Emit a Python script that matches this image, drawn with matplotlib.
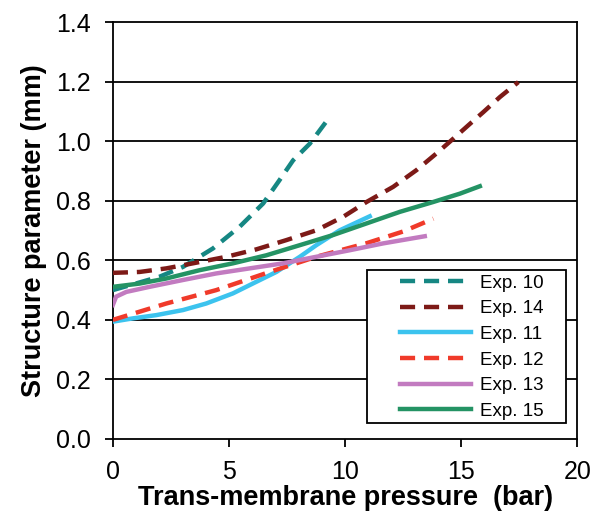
import matplotlib
matplotlib.use("Agg")
import matplotlib.pyplot as plt
from matplotlib.patches import Rectangle

plt.rcParams['font.family'] = ['Liberation Sans', 'DejaVu Sans']

# values
x10 = [0, 2.01, 3.02, 4.31, 5.46, 6.47, 7.18, 7.76, 8.48, 9.34]
y10 = [0.50, 0.545, 0.578, 0.640, 0.713, 0.791, 0.870, 0.936, 0.992, 1.082]

x14 = [0, 1.15, 2.3, 3.45, 4.89, 6.18, 7.47, 8.76, 9.91, 10.92, 12.07, 13.07, 13.93, 14.66, 15.38, 15.95, 16.67, 17.46]
y14 = [0.558, 0.561, 0.573, 0.590, 0.612, 0.637, 0.668, 0.701, 0.746, 0.796, 0.847, 0.903, 0.959, 1.009, 1.059, 1.098, 1.149, 1.199]

x11 = [0, 0.86, 1.87, 3.02, 4.02, 5.17, 6.18, 7.04, 8.05, 8.76, 9.77, 11.06]
y11 = [0.394, 0.405, 0.416, 0.433, 0.455, 0.489, 0.528, 0.561, 0.612, 0.651, 0.701, 0.748]

x12 = [0, 2.3, 4.45, 6.6, 8.76, 10.9, 12.5, 13.8]
y12 = [0.40, 0.455, 0.50, 0.557, 0.612, 0.657, 0.697, 0.74]

x13 = [0, 0.14, 0.58, 1.58, 3.02, 4.45, 5.89, 7.33, 8.76, 10.2, 11.64, 13.43]
y13 = [0.450, 0.478, 0.494, 0.511, 0.534, 0.556, 0.573, 0.590, 0.612, 0.634, 0.657, 0.681]

x15 = [0, 1.15, 2.3, 3.74, 5.17, 6.61, 8.05, 9.48, 10.92, 12.36, 13.79, 14.94, 15.8]
y15 = [0.511, 0.522, 0.539, 0.567, 0.590, 0.617, 0.651, 0.685, 0.724, 0.763, 0.796, 0.824, 0.849]

xticks = [0, 5, 10, 15, 20]
yticks = [0.0, 0.2, 0.4, 0.6, 0.8, 1.0, 1.2, 1.4]

fig = plt.figure(figsize=(5.94, 5.17), dpi=100, facecolor='white')
ax = fig.add_axes([0.19, 0.151, 0.782, 0.806])

for yv in yticks[1:-1]:
    ax.axhline(yv, color='black', lw=1.3, zorder=1)

dash = (3.4, 2.0)
ax.plot(x10, y10, color='#168783', lw=3.2, dashes=dash, label='Exp. 10', zorder=3)
ax.plot(x14, y14, color='#7d1a17', lw=3.2, dashes=dash, label='Exp. 14', zorder=3)
ax.plot(x11, y11, color='#3cc3ee', lw=3.2, label='Exp. 11', zorder=3)
ax.plot(x12, y12, color='#f03a2a', lw=3.2, dashes=dash, label='Exp. 12', zorder=3)
ax.plot(x13, y13, color='#c27bc0', lw=3.2, label='Exp. 13', zorder=3)
ax.plot(x15, y15, color='#249364', lw=3.2, label='Exp. 15', zorder=4)

ax.set_xlim(0, 20)
ax.set_ylim(0, 1.4)
ax.set_xticks(xticks)
ax.set_yticks(yticks)
ax.set_yticklabels([f'{v:.1f}' for v in yticks])
ax.tick_params(direction='out', length=6, width=1.3, labelsize=18)
ax.tick_params(axis='y', pad=10)
ax.tick_params(axis='x', pad=9)
for s in ax.spines.values():
    s.set_linewidth(1.3)

ax.set_xlabel('Trans-membrane pressure  (bar)', fontsize=19.5, fontweight='bold', labelpad=1)
ax.set_ylabel('Structure parameter (mm)', fontsize=19.5, fontweight='bold', labelpad=6)

# legend frame drawn as its own box
box = Rectangle((0.547, 0.038), 0.429, 0.367, transform=ax.transAxes,
                facecolor='white', edgecolor='black', lw=1.3, zorder=5)
ax.add_patch(box)
leg = ax.legend(loc='upper left', bbox_to_anchor=(0.585, 0.43), fontsize=13.5,
                frameon=False, handlelength=3.8, labelspacing=0.45,
                borderpad=0.3, handletextpad=0.5)
leg.set_zorder(6)

fig.savefig('out.png', dpi=100)
